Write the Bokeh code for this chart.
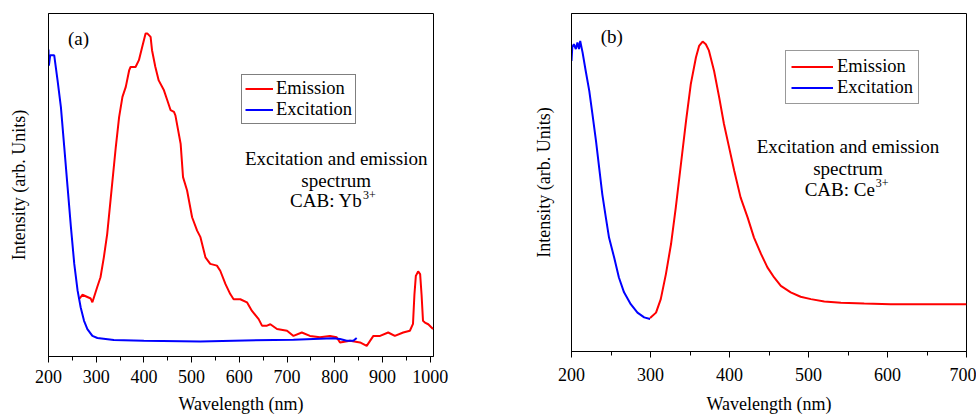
from bokeh.plotting import figure
from bokeh.layouts import row
from bokeh.models import Range1d, SingleIntervalTicker, FixedTicker, Label, Legend, LegendItem
from bokeh.embed import file_html
from bokeh.resources import INLINE

# ---------------- Panel (a): CAB: Yb3+ ----------------
a_em_wl = [265.5, 271, 288.5, 292, 302, 309, 316, 323, 330, 341, 348, 355, 362, 369, 372,
           382.5, 389.5, 396.5, 403.5, 407, 414, 417, 424, 431, 442, 449, 456, 463, 466,
           477, 482, 490.5, 501, 511.5, 518.5, 529, 539, 553, 560, 571, 581, 588, 602,
           616, 626.5, 640.5, 647.5, 658, 665, 679, 700, 713.5, 731, 748, 769, 790, 804,
           811, 832, 853, 867, 881, 895, 912, 926, 943.5, 957.5, 964, 967, 970, 974.8,
           979, 982, 985, 989, 996, 1006]
a_em_val = [16.9, 18.0, 16.9, 15.8, 20.2, 23.1, 28.9, 35.7, 45.5, 61.0, 69.8, 75.7, 78.6, 83.4, 84.4,
            84.4, 86.4, 90.3, 94.2, 94.2, 93.2, 89.3, 84.4, 80.5, 77.6, 74.7, 71.8, 71.3, 70.3,
            62.0, 52.3, 48.4, 40.6, 36.7, 34.8, 28.9, 27.0, 26.5, 25.0, 21.1, 18.2, 16.7, 16.7,
            15.8, 13.3, 10.9, 9.0, 9.0, 9.4, 8.0, 7.5, 6.0, 7.0, 6.0, 5.6, 6.0, 5.6,
            4.1, 4.6, 4.1, 3.1, 6.0, 6.0, 7.0, 6.0, 7.0, 7.5, 9.5, 18.0, 23.5, 24.8,
            24.0, 18.0, 10.4, 9.9, 9.4, 8.0]

a_ex_wl = [200, 200.8, 203.5, 212, 219, 226, 233, 240, 247, 254, 261, 267.5, 274.5, 281.5,
           292, 302.5, 337, 400, 518, 588, 713.5, 797, 811, 825, 839, 846]
a_ex_val = [89.5, 84.8, 87.8, 87.8, 80.5, 72.7, 61.1, 49.4, 37.7, 27.0, 19.2, 14.3, 10.4, 8.0,
            6.0, 5.4, 4.8, 4.6, 4.4, 4.6, 4.9, 5.3, 5.1, 4.6, 4.6, 5.4]

# ---------------- Panel (b): CAB: Ce3+ ----------------
b_ex_wl = [200, 201, 203, 205.5, 207.5, 209.5, 211, 214, 218, 222.5, 226.5, 231, 235, 239,
           243.5, 247.5, 254, 260, 266.5, 275, 283.5, 292, 299.5]
b_ex_val = [86.0, 90.0, 90.9, 89.5, 91.4, 89.5, 91.9, 88.5, 83.0, 77.1, 70.2, 62.3, 54.4, 46.5,
            39.6, 33.7, 27.8, 21.9, 17.5, 14.0, 11.5, 10.1, 9.6]

b_em_wl = [299.5, 307, 313, 319.5, 326, 332, 338.5, 345, 351, 357.5, 361.5, 366, 370, 374,
           380.5, 387, 393, 399.5, 406, 414, 423, 431, 440, 448, 456.5, 465, 477.5, 490,
           503, 520, 541, 570.5, 604, 700]
b_em_val = [9.9, 11.5, 15.5, 22.9, 31.8, 42.6, 55.4, 68.2, 79.1, 87.0, 90.4, 91.7, 90.9, 89.0,
            83.0, 75.1, 67.3, 60.4, 53.5, 45.6, 39.6, 33.7, 28.8, 24.9, 21.9, 19.4, 17.5, 16.2,
            15.5, 14.8, 14.4, 14.2, 14.0, 14.0]

x_ticks_a = [200, 300, 400, 500, 600, 700, 800, 900, 1000]
x_ticks_b = [200, 300, 400, 500, 600, 700]

FONT = "Liberation Serif"
RED = "#ff0000"
BLUE = "#0000ff"


def style(p, ticks, bottom_standoff, label_standoff, ylab_standoff):
    p.xgrid.visible = False
    p.ygrid.visible = False
    p.outline_line_color = "#000000"
    p.outline_line_width = 1
    p.background_fill_color = "white"
    p.border_fill_color = "white"
    xa = p.xaxis[0]
    xa.ticker = SingleIntervalTicker(interval=100, num_minor_ticks=2)
    xa.major_tick_out = 6
    xa.major_tick_in = 0
    xa.minor_tick_out = 4
    xa.minor_tick_in = 0
    xa.axis_line_color = "#000000"
    xa.major_tick_line_color = "#000000"
    xa.minor_tick_line_color = "#000000"
    xa.major_label_text_font = FONT
    xa.major_label_text_font_size = "18px"
    xa.major_label_text_color = "#000000"
    xa.major_label_standoff = bottom_standoff
    xa.axis_label = "Wavelength (nm)"
    xa.axis_label_text_font = FONT
    xa.axis_label_text_font_size = "18px"
    xa.axis_label_text_font_style = "normal"
    xa.axis_label_text_color = "#000000"
    xa.axis_label_standoff = label_standoff
    ya = p.yaxis[0]
    ya.ticker = FixedTicker(ticks=[])
    ya.major_tick_line_color = None
    ya.minor_tick_line_color = None
    ya.axis_line_color = "#000000"
    ya.axis_label = "Intensity (arb. Units)"
    ya.axis_label_text_font = FONT
    ya.axis_label_text_font_size = "18px"
    ya.axis_label_text_font_style = "normal"
    ya.axis_label_text_color = "#000000"
    ya.axis_label_standoff = ylab_standoff


def add_text(p, x, y, txt, size="19px", align="center"):
    p.add_layout(Label(x=x, y=y, text=txt, text_font=FONT, text_font_size=size,
                       text_align=align, text_baseline="middle", text_color="#000000"))


# ---------- figure (a) ----------
pa = figure(frame_width=385, frame_height=343, output_backend="svg", toolbar_location=None,
            x_range=Range1d(200, 1007), y_range=Range1d(0, 100),
            min_border_left=48, min_border_right=55, min_border_top=13, min_border_bottom=64)
style(pa, x_ticks_a, 7, 8, 20)
ra_em = pa.line(a_em_wl, a_em_val, line_color=RED, line_width=2)
ra_ex = pa.line(a_ex_wl, a_ex_val, line_color=BLUE, line_width=2)
leg_a = Legend(items=[LegendItem(label="Emission", renderers=[ra_em]),
                      LegendItem(label="Excitation", renderers=[ra_ex])],
               location=(193, 232), glyph_width=28, glyph_height=21, label_height=21,
               label_standoff=3, padding=3, spacing=0, margin=0,
               label_text_font=FONT, label_text_font_size="18.5px", label_text_color="#000000",
               border_line_color="#000000", border_line_width=1.5, background_fill_alpha=1)
pa.add_layout(leg_a)
add_text(pa, 263, 92.7, "(a)")
add_text(pa, 803, 57.7, "Excitation and emission")
add_text(pa, 803, 51.3, "spectrum")
add_text(pa, 858, 45.4, "CAB: Yb", align="right")
add_text(pa, 859, 47.2, "3+", size="12px", align="left")

# ---------- figure (b) ----------
pb = figure(frame_width=395, frame_height=338, output_backend="svg", toolbar_location=None,
            x_range=Range1d(200, 700), y_range=Range1d(0, 100),
            min_border_left=83, min_border_right=10, min_border_top=13, min_border_bottom=69)
style(pb, x_ticks_b, 10, 10, 18)
rb_ex = pb.line(b_ex_wl, b_ex_val, line_color=BLUE, line_width=2)
rb_em = pb.line(b_em_wl, b_em_val, line_color=RED, line_width=2)
leg_b = Legend(items=[LegendItem(label="Emission", renderers=[rb_em]),
                      LegendItem(label="Excitation", renderers=[rb_ex])],
               location=(214, 247), glyph_width=42, glyph_height=21, label_height=21,
               label_standoff=4, padding=5, spacing=0, margin=0,
               label_text_font=FONT, label_text_font_size="18.5px", label_text_color="#000000",
               border_line_color="#333333", border_line_width=1.5, background_fill_alpha=1)
pb.add_layout(leg_b)
add_text(pb, 251, 93.1, "(b)")
add_text(pb, 550, 60.7, "Excitation and emission")
add_text(pb, 550, 54.1, "spectrum")
add_text(pb, 584, 48.0, "CAB: Ce", align="right")
add_text(pb, 585, 49.8, "3+", size="12px", align="left")

layout = row(pa, pb)
open("out.html", "w").write(file_html(layout, INLINE))
